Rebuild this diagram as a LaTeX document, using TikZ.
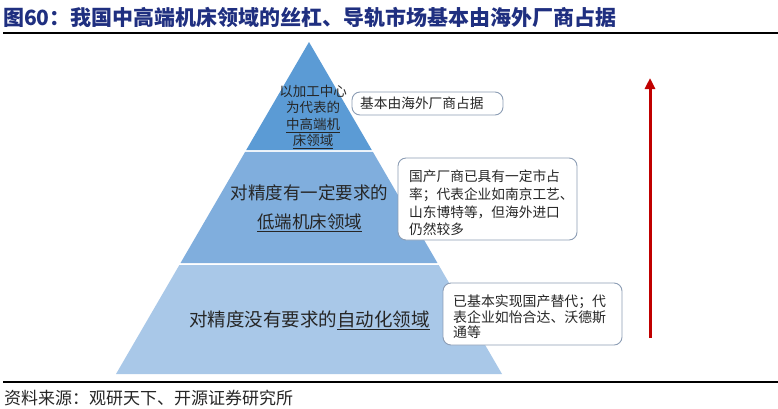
\documentclass[tikz,border=0pt]{standalone}
\usepackage{fontspec}
\setmainfont{Noto Sans CJK SC}
\usetikzlibrary{arrows.meta,calc}
\definecolor{bandA}{HTML}{5B9BD5}
\definecolor{bandB}{HTML}{80AEDD}
\definecolor{bandC}{HTML}{A9C8E8}
\definecolor{boxline}{HTML}{8C9DB5}
\definecolor{titleblue}{HTML}{1F2F80}
\definecolor{arrowred}{HTML}{C00000}
\definecolor{txtcol}{HTML}{262626}
\newcommand{\fsz}[2]{\fontsize{#1}{#2}\selectfont}
\tikzset{
  calloutbox/.style={draw=boxline, line width=0.9pt, fill=white, rounded corners=8pt, inner sep=0pt},
  plaintext/.style={inner sep=0pt, text=txtcol},
}
\begin{document}
\begin{tikzpicture}[x=1pt,y=-1pt]
\useasboundingbox (0,0) rectangle (778,408);
\fill[white] (0,0) rectangle (778,408);
% title
\node[plaintext, anchor=west, text=titleblue, font=\fsz{21}{24}\bfseries] (title) at (3,17) {图60：我国中高端机床领域的丝杠、导轨市场基本由海外厂商占据};
\coordinate (tl) at (3,33);
\coordinate (tr) at (778,33);
\draw[line width=2pt, black] (tl) -- (tr);
% pyramid
\coordinate (apex) at (309,42);
\coordinate (bl) at (116,374);
\coordinate (br) at (502,374);
\fill[bandA] (apex) -- ($(apex)!0.3253!(br)$) -- ($(apex)!0.3253!(bl)$) -- cycle;
\fill[bandB] ($(apex)!0.3313!(bl)$) -- ($(apex)!0.3313!(br)$) -- ($(apex)!0.6657!(br)$) -- ($(apex)!0.6657!(bl)$) -- cycle;
\fill[bandC] ($(apex)!0.6717!(bl)$) -- ($(apex)!0.6717!(br)$) -- (br) -- (bl) -- cycle;
\node[plaintext, align=center, font=\fsz{13.5}{16.5}] (toptext) at (313,117) {以加工中心\\为代表的\\\underline{中高端机}\\\underline{床领域}};
\node[plaintext, align=center, font=\fsz{17.5}{29}] (midtext) at (309.5,208) {对精度有一定要求的\\\underline{低端机床领域}};
\node[plaintext, font=\fsz{18.5}{22}] (bottext) at (309.5,320) {对精度没有要求的\underline{自动化领域}};
% callout boxes
\node[calloutbox, minimum width=151pt, minimum height=23pt] (box1) at (427.5,103.5) {};
\node[plaintext, anchor=west, font=\fsz{13.7}{16}] (box1text) at (360,103.5) {基本由海外厂商占据};
\node[calloutbox, minimum width=179pt, minimum height=82pt] (box2) at (487.5,199) {};
\node[plaintext, anchor=west, align=left, font=\fsz{13.7}{17.7}] (box2text) at (409,203) {国产厂商已具有一定市占\\率；代表企业如南京工艺、\\山东博特等，但海外进口\\仍然较多};
\node[calloutbox, minimum width=179pt, minimum height=62pt] (box3) at (532.5,314) {};
\node[plaintext, anchor=west, align=left, font=\fsz{13.9}{15.6}] (box3text) at (453,317) {已基本实现国产替代；代\\表企业如怡合达、沃德斯\\通等};
% arrow
\coordinate (arrowlow) at (650,338);
\coordinate (arrowhigh) at (650,78);
\draw[arrowred, line width=3pt, -{Triangle[length=11pt,width=10pt]}] (arrowlow) -- (arrowhigh);
% footer
\coordinate (bl2) at (3,382);
\coordinate (br2) at (778,382);
\draw[line width=1.5pt, black] (bl2) -- (br2);
\node[plaintext, anchor=west, font=\fsz{17}{20}] (src) at (4,398) {资料来源：观研天下、开源证券研究所};
\end{tikzpicture}
\end{document}
